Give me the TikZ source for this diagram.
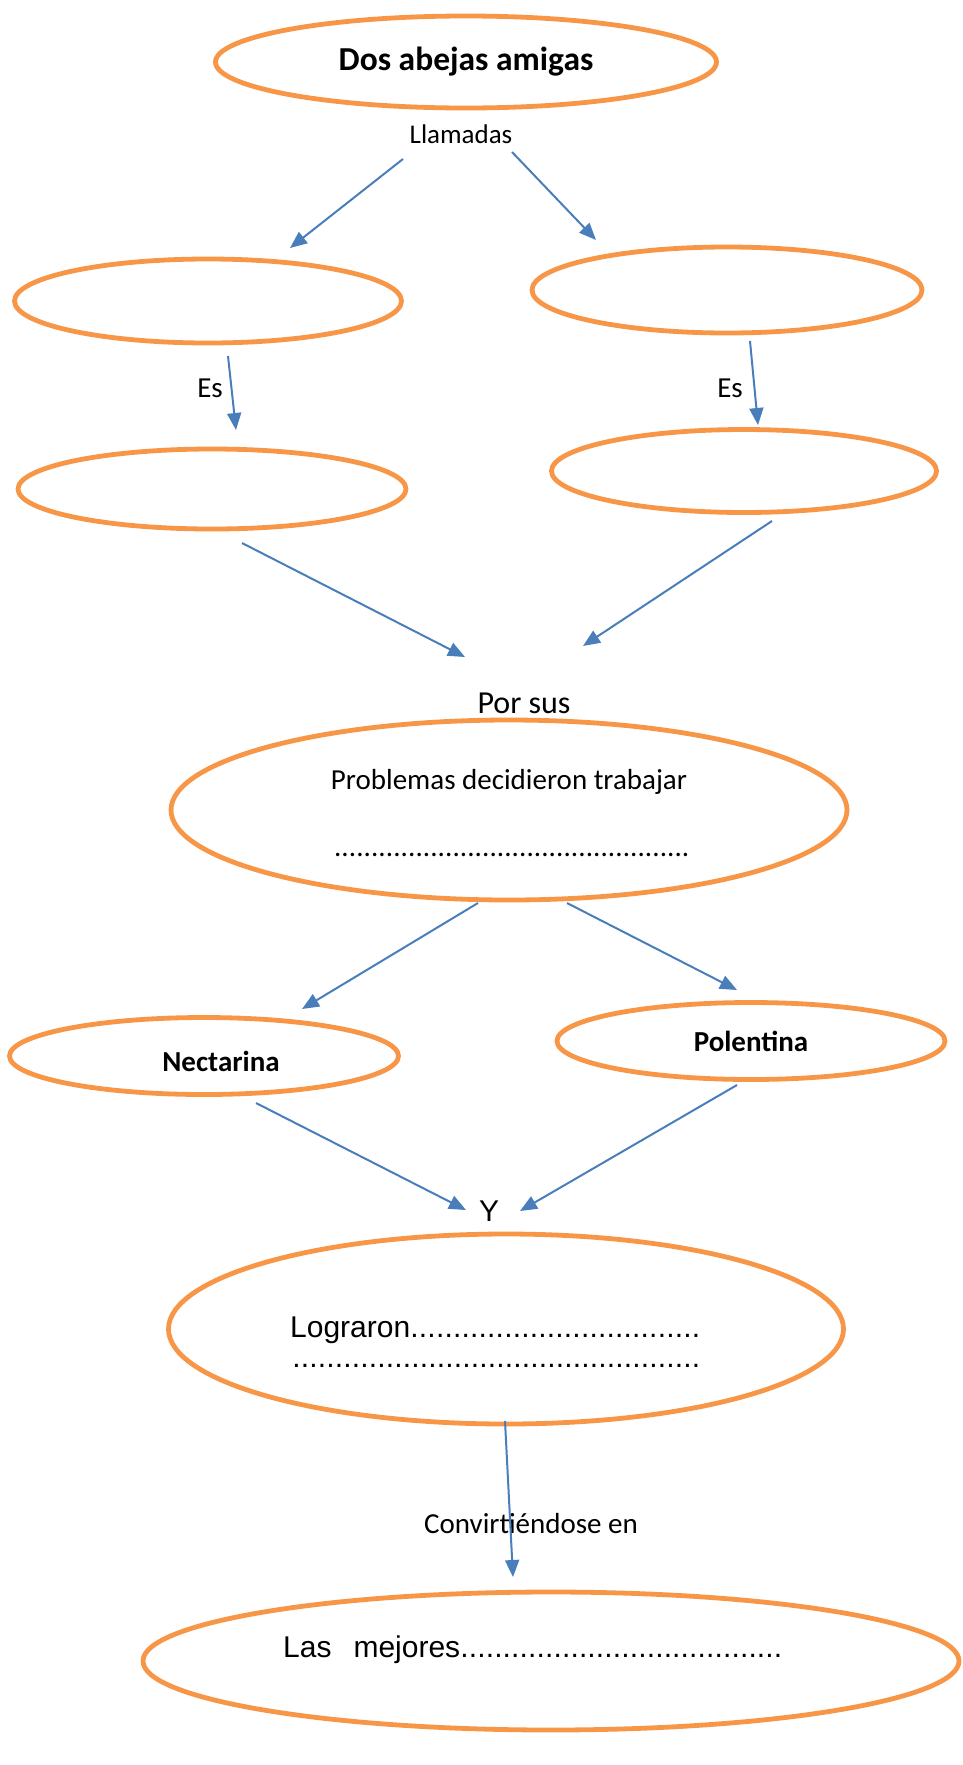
\documentclass[tikz,border=0pt]{standalone}
\usepackage{fontspec}
\setmainfont{Carlito}
\newfontfamily\arial{Liberation Sans}
\usepackage{xcolor}
\usepackage{tikz}
\usetikzlibrary{positioning,arrows.meta,shapes.geometric}
\definecolor{naranja}{HTML}{F79646}
\definecolor{azul}{HTML}{4A7EBB}
\newcommand{\puntos}[1]{\makebox[#1]{\xleaders\hbox{.}\hfill}}
\tikzset{
 globo/.style={ellipse, draw=naranja, line width=4.8pt, inner sep=0pt},
 flecha/.style={-{Triangle[length=17pt,width=14pt]}, draw=azul, line width=2pt},
 rotulo/.style={inner sep=0pt, font=\fontsize{29}{35}\selectfont},
 rotuloA/.style={inner sep=0pt, font=\arial\fontsize{30}{36}\selectfont},
}

\begin{document}
\begin{tikzpicture}[x=1pt,y=-1pt]
\useasboundingbox (0,0) rectangle (962,1765);
\node[globo, minimum width=501pt, minimum height=92pt, font=\bfseries\fontsize{33.5}{40}\selectfont] (dos) at (466,62) {Dos abejas amigas};
\node[rotulo, font=\fontsize{27}{32}\selectfont] (llamadas) at (461,134) {Llamadas};
\node[globo, minimum width=387pt, minimum height=84pt] (izq1) at (208,301) {};
\node[globo, minimum width=390pt, minimum height=86pt] (der1) at (727,290) {};
\node[rotulo] (es1) at (210,388) {Es};
\node[rotulo] (es2) at (730,388) {Es};
\node[globo, minimum width=388pt, minimum height=80pt] (izq2) at (212,489) {};
\node[globo, minimum width=385pt, minimum height=83pt] (der2) at (744,471) {};
\node[rotulo, font=\fontsize{32}{38}\selectfont] (porsus) at (524,703) {Por sus};
\node[globo, minimum width=676pt, minimum height=180pt] (problemas) at (509,810) {};
\node[rotulo] (problemastxt) at (509,782) {Problemas decidieron trabajar};
\node[rotulo] (problemasdots) at (512,855) {\puntos{356pt}};
\node[globo, minimum width=389pt, minimum height=77pt] (nectarina) at (204,1056) {};
\node[rotulo, font=\bfseries\fontsize{29}{35}\selectfont] (nectarinatxt) at (221,1061) {Nectarina};
\node[globo, minimum width=388pt, minimum height=77pt, font=\bfseries\fontsize{29}{35}\selectfont] (polentina) at (751,1041) {Polentina};
\node[rotuloA] (y) at (489,1211) {Y};
\node[globo, minimum width=675pt, minimum height=190pt] (lograron) at (506,1329) {};
\node[rotuloA, anchor=west] (lograrontxt) at (290,1330) {Lograron\puntos{290pt}};
\node[rotuloA, anchor=west] (lograrondots) at (292,1366) {\puntos{408pt}};
\node[rotulo] (convirtiendo) at (531,1524) {Convirtiéndose en};
\node[globo, minimum width=816pt, minimum height=138pt] (mejores) at (551,1661) {};
\node[rotuloA, anchor=west] (mejorestxt) at (283,1650) {Las\hspace{22pt}mejores\puntos{322pt}};
% extremos de las flechas
\coordinate (a1) at (403,159); \coordinate (a2) at (290,248);
\coordinate (b1) at (512,152); \coordinate (b2) at (596,240);
\coordinate (c1) at (228,356); \coordinate (c2) at (236,430);
\coordinate (d1) at (750,341); \coordinate (d2) at (758,425);
\coordinate (e1) at (242,543); \coordinate (e2) at (465,657);
\coordinate (f1) at (772,521); \coordinate (f2) at (583,646);
\coordinate (g1) at (478,903); \coordinate (g2) at (302,1009);
\coordinate (h1) at (567,903); \coordinate (h2) at (737,990);
\coordinate (i1) at (256,1103); \coordinate (i2) at (466,1210);
\coordinate (j1) at (737,1085); \coordinate (j2) at (520,1211);
\coordinate (k1) at (505,1421); \coordinate (k2) at (513,1577);
\draw[flecha] (a1) -- (a2);
\draw[flecha] (b1) -- (b2);
\draw[flecha] (c1) -- (c2);
\draw[flecha] (d1) -- (d2);
\draw[flecha] (e1) -- (e2);
\draw[flecha] (f1) -- (f2);
\draw[flecha] (g1) -- (g2);
\draw[flecha] (h1) -- (h2);
\draw[flecha] (i1) -- (i2);
\draw[flecha] (j1) -- (j2);
\draw[flecha] (k1) -- (k2);
\end{tikzpicture}
\end{document}
